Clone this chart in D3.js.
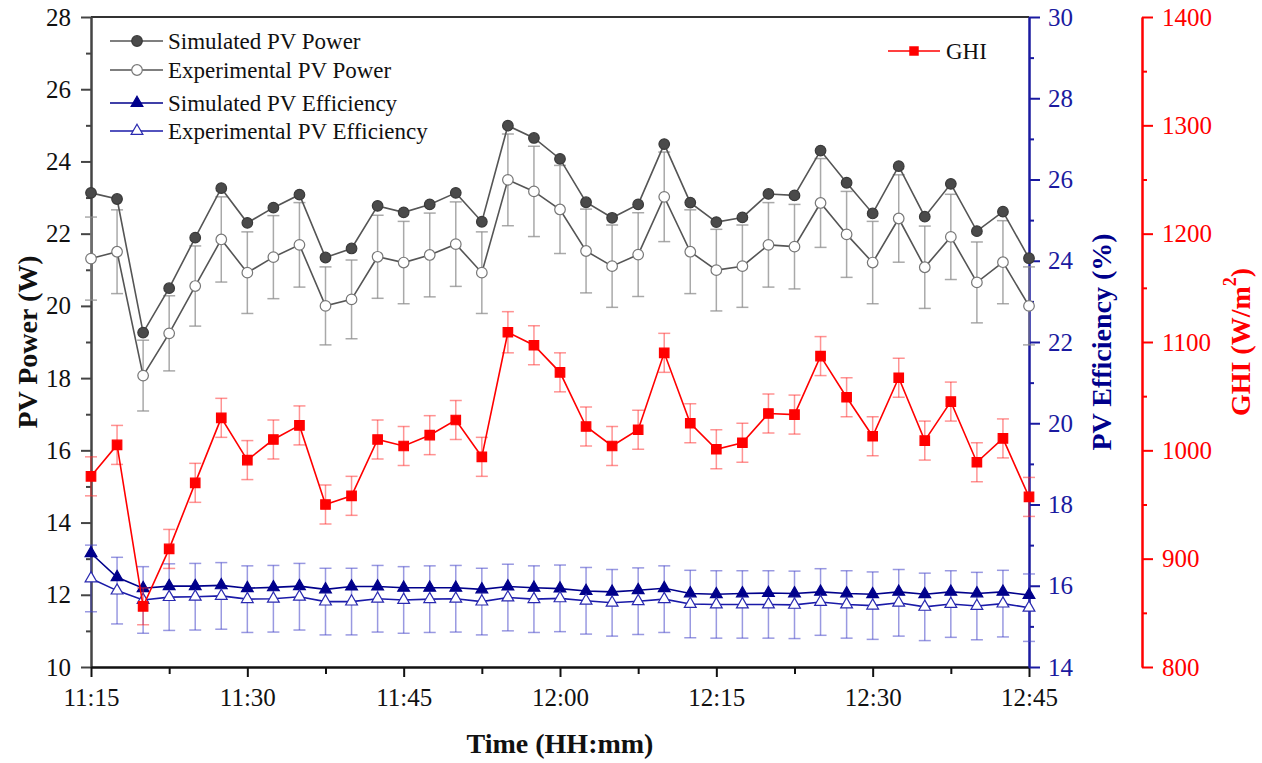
<!DOCTYPE html>
<html><head><meta charset="utf-8">
<script src="https://cdn.jsdelivr.net/npm/d3@7"></script>
<style>
body{margin:0;background:#fff}
svg{display:block}
svg text{font-family:"Liberation Serif","Times New Roman",serif !important}
</style>
</head><body>
<svg id="c" width="1262" height="763"></svg>
<script>
const times = ["11:15:00","11:17:30","11:20:00","11:22:30","11:25:00","11:27:30","11:30:00","11:32:30","11:35:00","11:37:30",
"11:40:00","11:42:30","11:45:00","11:47:30","11:50:00","11:52:30","11:55:00","11:57:30","12:00:00","12:02:30",
"12:05:00","12:07:30","12:10:00","12:12:30","12:15:00","12:17:30","12:20:00","12:22:30","12:25:00","12:27:30",
"12:30:00","12:32:30","12:35:00","12:37:30","12:40:00","12:42:30","12:45:00"];
const simPower = [23.13,22.96,19.26,20.49,21.89,23.26,22.30,22.72,23.08,21.34,21.59,22.77,22.59,22.81,23.13,22.33,24.99,24.65,24.07,22.87,
22.44,22.81,24.48,22.86,22.32,22.45,23.10,23.06,24.30,23.41,22.56,23.87,22.47,23.38,22.07,22.61,21.32];
const expPower = [21.31,21.50,18.07,19.24,20.55,21.84,20.92,21.35,21.69,20.00,20.18,21.36,21.20,21.41,21.71,20.92,23.49,23.17,22.67,21.52,
21.10,21.42,23.02,21.50,20.99,21.10,21.69,21.64,22.85,21.98,21.20,22.42,21.07,21.91,20.65,21.21,20.00];
const expPowerErr = [1.15,1.16,0.98,1.04,1.11,1.18,1.13,1.15,1.17,1.08,1.09,1.15,1.14,1.16,1.17,1.13,1.27,1.25,1.22,1.16,
1.14,1.16,1.24,1.16,1.13,1.14,1.17,1.17,1.23,1.19,1.14,1.21,1.14,1.18,1.12,1.15,1.08];
const simEff = [16.80,16.21,15.94,15.99,15.99,16.01,15.94,15.96,15.99,15.91,15.98,15.98,15.95,15.95,15.95,15.91,15.98,15.95,15.93,15.87,
15.85,15.89,15.94,15.81,15.79,15.81,15.82,15.81,15.85,15.81,15.79,15.85,15.79,15.85,15.81,15.85,15.77];
const expEff = [16.18,15.88,15.65,15.72,15.73,15.75,15.67,15.68,15.73,15.61,15.61,15.68,15.65,15.67,15.68,15.61,15.71,15.67,15.69,15.63,
15.58,15.62,15.67,15.55,15.54,15.54,15.54,15.53,15.60,15.54,15.51,15.58,15.48,15.55,15.50,15.56,15.46];
const expEffErr = [0.82,0.82,0.82,0.82,0.82,0.82,0.82,0.82,0.82,0.82,0.82,0.82,0.82,0.82,0.82,0.82,0.82,0.82,0.82,0.82,
0.82,0.82,0.82,0.83,0.83,0.83,0.83,0.83,0.82,0.83,0.83,0.82,0.83,0.82,0.83,0.82,0.83];
const ghi = [976,1005,856,909,970,1030,991,1010,1023,950,958,1010,1004,1014,1028,994,1109,1097,1072,1022,
1004,1019,1090,1025,1001,1007,1034,1033,1087,1049,1013,1067,1009,1045,989,1011,957];
const ghiErr = [18,18,17,18,18,18,18,18,18,18,18,18,18,18,18,18,19,18,18,18,18,18,18,18,18,18,18,18,18,18,18,18,18,18,18,18,18];
const xTickLabels = ["11:15","11:30","11:45","12:00","12:15","12:30","12:45"];
const xMinorLabels = ["11:22","11:37","11:52","12:07","12:22","12:37"];
const powerTicks = [10,12,14,16,18,20,22,24,26,28];
const powerMinor = [11,13,15,17,19,21,23,25,27];
const effTicks = [14,16,18,20,22,24,26,28,30];
const effMinor = [15,17,19,21,23,25,27,29];
const ghiTicks = [800,900,1000,1100,1200,1300,1400];
const ghiMinor = [850,950,1050,1150,1250,1350];

const FONT = '"Liberation Serif","Times New Roman",serif';
const parseT = d3.timeParse("%H:%M:%S");
const fmt = d3.timeFormat("%H:%M");
const T = times.map(parseT);
const svg = d3.select("#c");
const L=91, R=1029, TOP=17, B=667;
const x = d3.scaleTime().domain([parseT("11:15:00"), parseT("12:45:00")]).range([L,R]);
const yP = d3.scaleLinear().domain([10,28]).range([B,TOP]);
const yE = d3.scaleLinear().domain([14,30]).range([B,TOP]);
const yG = d3.scaleLinear().domain([800,1400]).range([B,TOP]);

const NAVY="#00008B", RED="#ff0000";

// frame top
svg.append("line").attr("x1",L).attr("x2",R).attr("y1",TOP).attr("y2",TOP).attr("stroke","#333").attr("stroke-width",2);

function styleAxis(g, color, textColor){
  g.attr("font-family",null).attr("font-size",null).style("font-family",FONT).style("font-size","25px");
  g.select(".domain").attr("stroke",color).attr("stroke-width",2);
  g.selectAll(".tick line").attr("stroke",color).attr("stroke-width",2);
  g.selectAll(".tick text").attr("fill",textColor||color).style("font-family",FONT).style("font-size","25px");
}
const intFmt = d3.format("d");
// left axis
let g = svg.append("g").attr("transform",`translate(${L},0)`)
  .call(d3.axisLeft(yP).tickValues(powerMinor).tickSize(5).tickFormat("").tickSizeOuter(0));
styleAxis(g,"#444");
g = svg.append("g").attr("transform",`translate(${L},0)`)
  .call(d3.axisLeft(yP).tickValues(powerTicks).tickSize(10).tickPadding(10).tickFormat(intFmt).tickSizeOuter(0));
styleAxis(g,"#444","#111");

// bottom axis
const xMajor = xTickLabels.map(s=>parseT(s+":00"));
const xMin = xMinorLabels.map(s=>parseT(s+":30"));
g = svg.append("g").attr("transform",`translate(0,${B})`)
  .call(d3.axisBottom(x).tickValues(xMin).tickSize(7).tickFormat("").tickSizeOuter(0));
styleAxis(g,"#111");
g = svg.append("g").attr("transform",`translate(0,${B})`)
  .call(d3.axisBottom(x).tickValues(xMajor).tickSize(10).tickPadding(11).tickFormat(fmt).tickSizeOuter(0));
styleAxis(g,"#111");

// right efficiency axis
g = svg.append("g").attr("transform",`translate(${R},0)`)
  .call(d3.axisRight(yE).tickValues(effMinor).tickSize(5).tickFormat("").tickSizeOuter(0));
styleAxis(g,"#1a1aa0");
g = svg.append("g").attr("transform",`translate(${R},0)`)
  .call(d3.axisRight(yE).tickValues(effTicks).tickSize(11).tickPadding(8).tickFormat(intFmt).tickSizeOuter(0));
styleAxis(g,"#1a1aa0");

// GHI axis
const GX=1142;
g = svg.append("g").attr("transform",`translate(${GX},0)`)
  .call(d3.axisRight(yG).tickValues(ghiMinor).tickSize(5).tickFormat("").tickSizeOuter(0));
styleAxis(g,RED);
g = svg.append("g").attr("transform",`translate(${GX},0)`)
  .call(d3.axisRight(yG).tickValues(ghiTicks).tickSize(11).tickPadding(9).tickFormat(intFmt).tickSizeOuter(0));
styleAxis(g,RED);

// titles
svg.append("text").attr("transform","translate(27,342) rotate(-90)").attr("text-anchor","middle")
  .attr("dominant-baseline","central").attr("font-size",28).attr("font-weight","bold").attr("fill","#111").text("PV Power (W)");
svg.append("text").attr("transform","translate(1101,342) rotate(-90)").attr("text-anchor","middle")
  .attr("dominant-baseline","central").attr("font-size",28).attr("font-weight","bold").attr("fill",NAVY).text("PV Efficiency (%)");
const gt = svg.append("text").attr("transform","translate(1240,342) rotate(-90)").attr("text-anchor","middle")
  .attr("dominant-baseline","central").attr("font-size",28).attr("font-weight","bold").attr("fill",RED);
gt.append("tspan").text("GHI (W/m");
gt.append("tspan").attr("font-size",18).attr("dy",-10).text("2");
gt.append("tspan").attr("dy",10).text(")");
svg.append("text").attr("x",560).attr("y",753).attr("text-anchor","middle").attr("font-size",28)
  .attr("font-weight","bold").attr("fill","#111").text("Time (HH:mm)");

// helpers
function errBars(vals, errs, ys, color, width){
  const gg = svg.append("g").attr("stroke",color).attr("stroke-width",width).attr("fill","none");
  vals.forEach((v,i)=>{
    const cx=x(T[i]), y1=ys(v-errs[i]), y2=ys(v+errs[i]);
    gg.append("line").attr("x1",cx).attr("x2",cx).attr("y1",y1).attr("y2",y2);
    gg.append("line").attr("x1",cx-6).attr("x2",cx+6).attr("y1",y1).attr("y2",y1);
    gg.append("line").attr("x1",cx-6).attr("x2",cx+6).attr("y1",y2).attr("y2",y2);
  });
}
function seriesLine(vals, ys, color){
  svg.append("path").datum(vals).attr("fill","none").attr("stroke",color).attr("stroke-width",1.6)
    .attr("d",d3.line().x((d,i)=>x(T[i])).y(d=>ys(d)));
}
function markers(vals, ys, type, size, fill, stroke){
  const sym = d3.symbol().type(type).size(size);
  svg.append("g").selectAll("path").data(vals).join("path")
    .attr("transform",(d,i)=>`translate(${x(T[i])},${ys(d)})`)
    .attr("d",sym).attr("fill",fill).attr("stroke",stroke).attr("stroke-width",1.2);
}

// efficiency
errBars(expEff, expEffErr, yE, "rgba(70,70,200,0.55)", 1.5);
seriesLine(simEff, yE, NAVY);
seriesLine(expEff, yE, "#1a1aa8");
markers(simEff, yE, d3.symbolTriangle, 60, NAVY, NAVY);
markers(expEff, yE, d3.symbolTriangle, 60, "#fff", "#2a2ab0");

// power
errBars(expPower, expPowerErr, yP, "rgba(140,140,140,0.75)", 1.5);
seriesLine(simPower, yP, "#555");
seriesLine(expPower, yP, "#555");
markers(simPower, yP, d3.symbolCircle, 88, "#4a4a4a", "#3a3a3a");
markers(expPower, yP, d3.symbolCircle, 88, "#fff", "#777");

// GHI
errBars(ghi, ghiErr, yG, "rgba(255,40,40,0.5)", 1.5);
seriesLine(ghi, yG, RED);
markers(ghi, yG, d3.symbolSquare, 90, RED, RED);

// legend
const leg = [
  {y:41, label:"Simulated PV Power", line:"#555", type:d3.symbolCircle, size:88, fill:"#4a4a4a", stroke:"#3a3a3a"},
  {y:70, label:"Experimental PV Power", line:"#555", type:d3.symbolCircle, size:88, fill:"#fff", stroke:"#777"},
  {y:103, label:"Simulated PV Efficiency", line:NAVY, type:d3.symbolTriangle, size:60, fill:NAVY, stroke:NAVY},
  {y:131, label:"Experimental PV Efficiency", line:"#1a1aa8", type:d3.symbolTriangle, size:60, fill:"#fff", stroke:"#2a2ab0"}
];
leg.forEach(l=>{
  svg.append("line").attr("x1",110).attr("x2",163).attr("y1",l.y).attr("y2",l.y).attr("stroke",l.line).attr("stroke-width",1.6);
  svg.append("path").attr("transform",`translate(137,${l.y})`).attr("d",d3.symbol().type(l.type).size(l.size)())
    .attr("fill",l.fill).attr("stroke",l.stroke).attr("stroke-width",1.2);
  svg.append("text").attr("x",168).attr("y",l.y).attr("dy","0.33em").attr("font-size",23).attr("fill","#111").text(l.label);
});
svg.append("line").attr("x1",888).attr("x2",940).attr("y1",51).attr("y2",51).attr("stroke",RED).attr("stroke-width",1.6);
svg.append("path").attr("transform","translate(914,51)").attr("d",d3.symbol().type(d3.symbolSquare).size(90)()).attr("fill",RED);
svg.append("text").attr("x",946).attr("y",51).attr("dy","0.33em").attr("font-size",23).attr("fill","#111").text("GHI");
</script>
</body></html>
